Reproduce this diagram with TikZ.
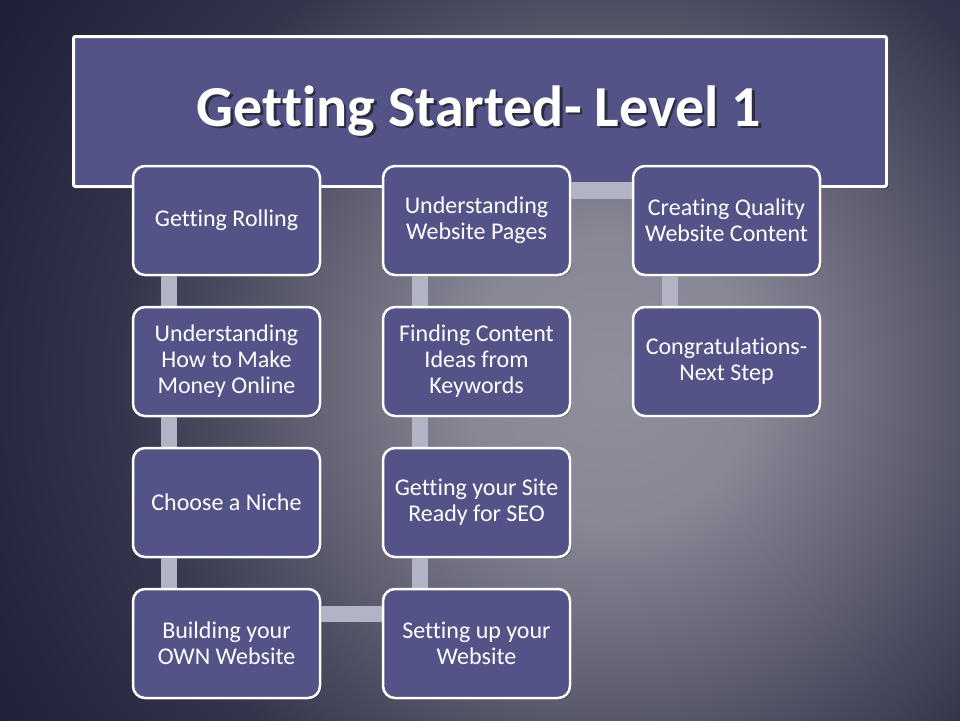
\documentclass[tikz,border=0pt]{standalone}
\usepackage{fontspec}
\setmainfont{Carlito}[Ligatures={NoCommon}]
\usetikzlibrary{shadows}
\definecolor{bgin}{HTML}{8E8E9C}
\definecolor{bgmid}{HTML}{5E5E70}
\definecolor{bgdark}{HTML}{34344C}
\definecolor{bgout}{HTML}{1E1E36}
\definecolor{boxfill}{HTML}{535388}
\definecolor{connc}{HTML}{B3B3C6}
\definecolor{tshadow}{HTML}{2A2A40}
\pgfdeclareradialshading{bgshade}{\pgfpoint{0bp}{0bp}}{color(0bp)=(bgin); color(5bp)=(bgin!85!bgmid); color(11bp)=(bgmid); color(17bp)=(bgdark); color(25bp)=(bgout); color(50bp)=(bgout)}
\tikzset{
  stepbox/.style={draw=white, line width=2.5pt, fill=boxfill, rounded corners=12pt,
    minimum width=187pt, minimum height=109pt, align=center, text=white,
    font=\fontsize{24}{26}\selectfont, inner sep=2pt,
    drop shadow={shadow xshift=1.5pt, shadow yshift=-1.5pt, fill=black, opacity=0.35}},
  titlebox/.style={draw=white, line width=3pt, fill=boxfill, rounded corners=2pt,
    minimum width=813pt, minimum height=150pt,
    drop shadow={shadow xshift=2pt, shadow yshift=-2pt, fill=black, opacity=0.4}},
  titletextstyle/.style={text=white, font=\fontsize{58}{60}\selectfont\bfseries},
  conn/.style={connc, line width=16.5pt},
}
\newcommand{\titlestr}{Getting Started- Level 1}
\begin{document}
\begin{tikzpicture}[x=1pt,y=-1pt]
\useasboundingbox (0,0) rectangle (960,720);
\begin{scope}
  \clip (0,0) rectangle (960,720);
  \shade[shading=bgshade] (610,380) circle (720);
\end{scope}
% title
\node[titlebox] (title) at (480,111.5) {};
\node[titletextstyle] (titletext) at (479,112)
  {\makebox[0pt][l]{\hspace{2.5pt}\raisebox{-2.5pt}{\textcolor{tshadow}{\titlestr}}}\titlestr};
% boxes positions
\coordinate (p11) at (226.5,220.5);
\coordinate (p12) at (226.5,361.5);
\coordinate (p13) at (226.5,502.5);
\coordinate (p14) at (226.5,643.5);
\coordinate (p21) at (476.5,220.5);
\coordinate (p22) at (476.5,361.5);
\coordinate (p23) at (476.5,502.5);
\coordinate (p24) at (476.5,643.5);
\coordinate (p31) at (726.5,220.5);
\coordinate (p32) at (726.5,361.5);
% invisible anchors for connectors (same geometry as boxes)
\foreach \n in {11,12,13,14,21,22,23,24,31,32}{
  \node[minimum width=189pt, minimum height=111pt, inner sep=0pt] (a\n) at (p\n) {};
}
% connectors
\draw[conn] ([xshift=37pt]a11.south west) -- ([xshift=37pt]a12.north west);
\draw[conn] ([xshift=37pt]a12.south west) -- ([xshift=37pt]a13.north west);
\draw[conn] ([xshift=37pt]a13.south west) -- ([xshift=37pt]a14.north west);
\draw[conn] ([yshift=29.5pt]a14.east) -- ([yshift=29.5pt]a24.west);
\draw[conn] ([xshift=38pt]a24.north west) -- ([xshift=38pt]a23.south west);
\draw[conn] ([xshift=38pt]a23.north west) -- ([xshift=38pt]a22.south west);
\draw[conn] ([xshift=38pt]a22.north west) -- ([xshift=38pt]a21.south west);
\draw[conn] ([yshift=30pt]a21.east) -- ([yshift=30pt]a31.west);
\draw[conn] ([xshift=38pt]a31.south west) -- ([xshift=38pt]a32.north west);
% boxes
\node[stepbox] (b11) at (p11) {Getting Rolling};
\node[stepbox] (b12) at (p12) {Understanding\\How to Make\\Money Online};
\node[stepbox] (b13) at (p13) {Choose a Niche};
\node[stepbox] (b14) at (p14) {Building your\\OWN Website};
\node[stepbox] (b21) at (p21) {Understanding\\Website Pages};
\node[stepbox] (b22) at (p22) {Finding Content\\Ideas from\\Keywords};
\node[stepbox] (b23) at (p23) {Getting your Site\\Ready for SEO};
\node[stepbox] (b24) at (p24) {Setting up your\\Website};
\node[stepbox] (b31) at (p31) {Creating Quality\\Website Content};
\node[stepbox] (b32) at (p32) {Congratulations-\\Next Step};
\end{tikzpicture}
\end{document}
